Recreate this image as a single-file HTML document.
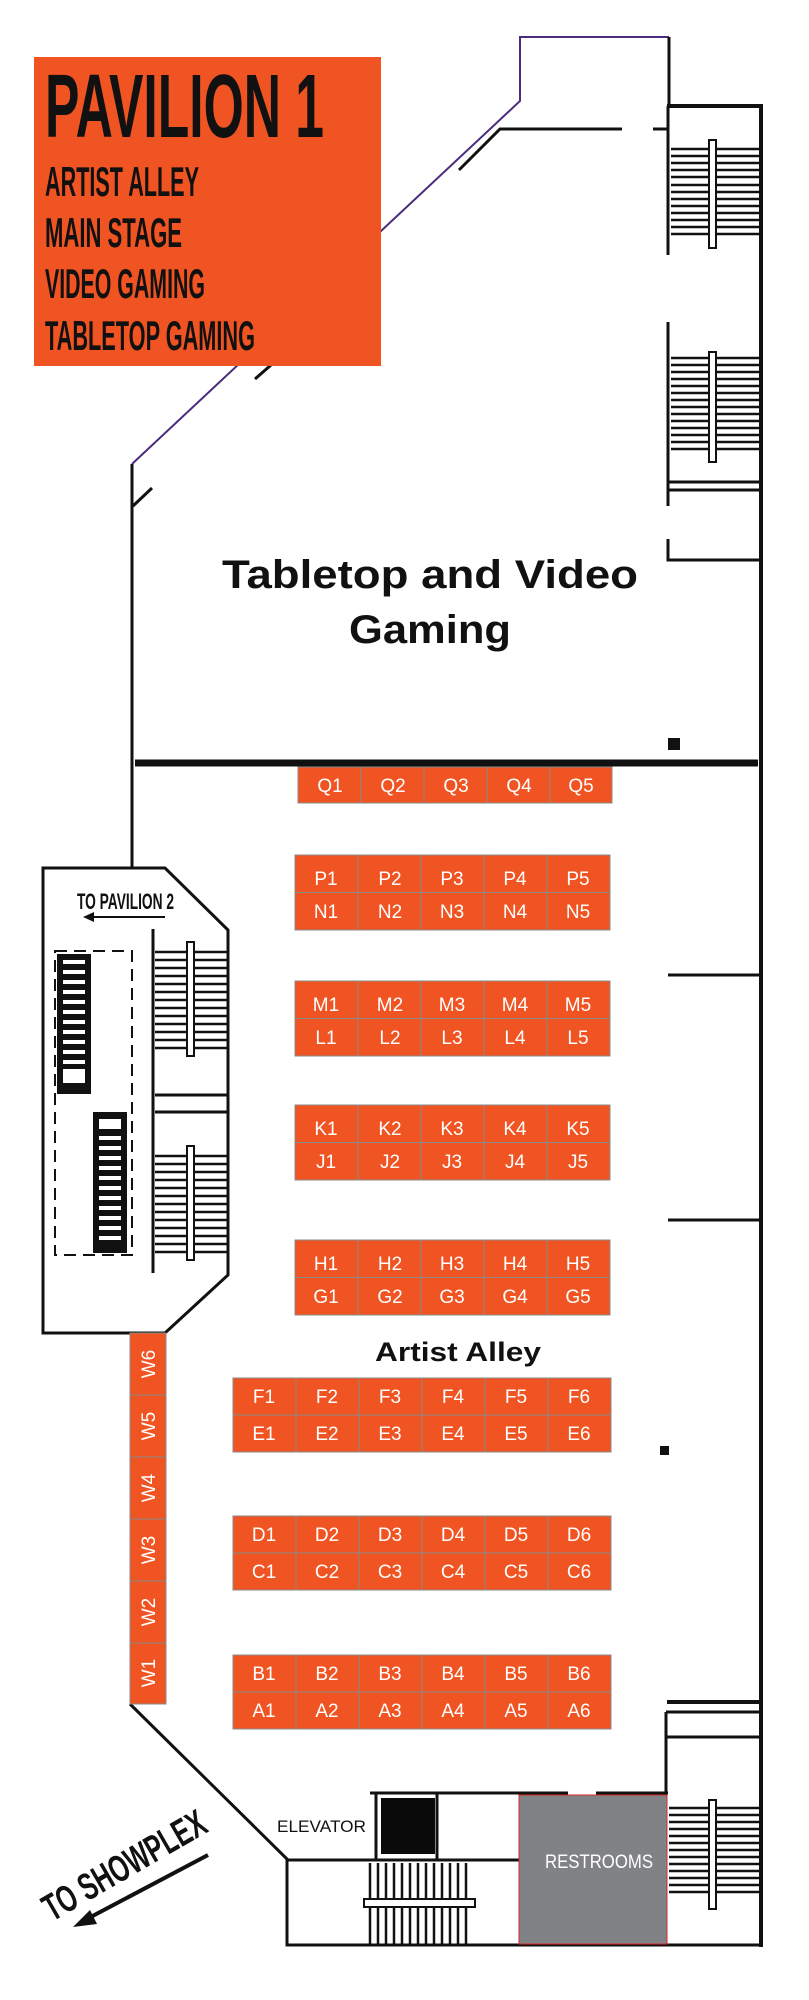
<!DOCTYPE html>
<html><head><meta charset="utf-8"><style>
html,body{margin:0;padding:0;background:#fff;}
svg{display:block;}
.c{font-family:"Liberation Sans",sans-serif;font-size:19px;fill:#fff;text-anchor:middle;}
.n{font-family:"Liberation Sans Narrow","Liberation Sans",sans-serif;font-weight:bold;fill:#111;}
</style></head><body>
<svg width="809" height="2000" viewBox="0 0 809 2000" xmlns="http://www.w3.org/2000/svg">
<!-- purple outline -->
<polyline points="669,37 520,37 520,101 132,464" fill="none" stroke="#4b2d7f" stroke-width="2"/>
<g stroke="#111" fill="none" stroke-width="3">
<line x1="669" y1="37" x2="669" y2="108"/>
<line x1="132" y1="464" x2="132" y2="869"/>
<line x1="667" y1="106" x2="763" y2="106" stroke-width="4"/>
<line x1="761" y1="104" x2="761" y2="1947" stroke-width="4"/>
<polyline points="459,170 500,129 622,129"/>
<line x1="653" y1="129" x2="669" y2="129"/>
<line x1="255" y1="379" x2="271" y2="365"/>
<line x1="133" y1="506" x2="152" y2="488"/>
<line x1="668" y1="106" x2="668" y2="255"/>
<line x1="668" y1="322" x2="668" y2="506"/>
<polyline points="668,539 668,560 761,560"/>
<line x1="668" y1="482" x2="761" y2="482"/>
<line x1="668" y1="490" x2="761" y2="490"/>
<line x1="135" y1="763" x2="758" y2="763" stroke-width="7"/>
<line x1="668" y1="975" x2="761" y2="975"/>
<line x1="668" y1="1220" x2="761" y2="1220"/>
<!-- pavilion 2 box -->
<polyline points="132,868 43,868 43,1333 165,1333 228,1275 228,930 165,868 132,868"/>
<line x1="153" y1="929" x2="153" y2="1273"/>
<line x1="155" y1="1095" x2="228" y2="1095"/>
<line x1="155" y1="1112" x2="228" y2="1112"/>
<rect x="55" y="951" width="77" height="304" stroke-width="2" stroke-dasharray="12,7"/>
<!-- bottom -->
<polyline points="130,1704 287,1859 287,1945 761,1945"/>
<line x1="287" y1="1860" x2="519" y2="1860"/>
<line x1="370" y1="1793" x2="568" y2="1793"/>
<line x1="596" y1="1793" x2="668" y2="1793"/>
<line x1="437" y1="1793" x2="437" y2="1860"/>
<line x1="376" y1="1793" x2="376" y2="1860"/>
<line x1="667" y1="1702" x2="761" y2="1702" stroke-width="4"/>
<line x1="666" y1="1712" x2="666" y2="1945"/>
<line x1="666" y1="1712" x2="761" y2="1712"/>
<line x1="666" y1="1737" x2="761" y2="1737"/>
</g>
<rect x="668" y="738" width="12" height="12" fill="#111"/>
<rect x="660" y="1446" width="9" height="9" fill="#111"/>
<rect x="381" y="1798" width="54" height="56" fill="#0a0a0a"/>
<!-- stairs -->
<g stroke="#111" stroke-width="2.5">
<line x1="671" y1="149" x2="760" y2="149"/><line x1="671" y1="156" x2="760" y2="156"/><line x1="671" y1="163" x2="760" y2="163"/><line x1="671" y1="170" x2="760" y2="170"/><line x1="671" y1="177" x2="760" y2="177"/><line x1="671" y1="185" x2="760" y2="185"/><line x1="671" y1="192" x2="760" y2="192"/><line x1="671" y1="199" x2="760" y2="199"/><line x1="671" y1="206" x2="760" y2="206"/><line x1="671" y1="213" x2="760" y2="213"/><line x1="671" y1="220" x2="760" y2="220"/><line x1="671" y1="227" x2="760" y2="227"/><line x1="671" y1="234" x2="760" y2="234"/>
<line x1="671" y1="358" x2="760" y2="358"/><line x1="671" y1="365" x2="760" y2="365"/><line x1="671" y1="372" x2="760" y2="372"/><line x1="671" y1="379" x2="760" y2="379"/><line x1="671" y1="386" x2="760" y2="386"/><line x1="671" y1="393" x2="760" y2="393"/><line x1="671" y1="400" x2="760" y2="400"/><line x1="671" y1="407" x2="760" y2="407"/><line x1="671" y1="414" x2="760" y2="414"/><line x1="671" y1="421" x2="760" y2="421"/><line x1="671" y1="428" x2="760" y2="428"/><line x1="671" y1="435" x2="760" y2="435"/><line x1="671" y1="442" x2="760" y2="442"/><line x1="671" y1="449" x2="760" y2="449"/>
<line x1="669" y1="1808" x2="760" y2="1808"/><line x1="669" y1="1815" x2="760" y2="1815"/><line x1="669" y1="1822" x2="760" y2="1822"/><line x1="669" y1="1829" x2="760" y2="1829"/><line x1="669" y1="1836" x2="760" y2="1836"/><line x1="669" y1="1843" x2="760" y2="1843"/><line x1="669" y1="1850" x2="760" y2="1850"/><line x1="669" y1="1857" x2="760" y2="1857"/><line x1="669" y1="1864" x2="760" y2="1864"/><line x1="669" y1="1871" x2="760" y2="1871"/><line x1="669" y1="1878" x2="760" y2="1878"/><line x1="669" y1="1885" x2="760" y2="1885"/><line x1="669" y1="1892" x2="760" y2="1892"/>
<line x1="155" y1="952" x2="228" y2="952"/><line x1="155" y1="960" x2="228" y2="960"/><line x1="155" y1="968" x2="228" y2="968"/><line x1="155" y1="976" x2="228" y2="976"/><line x1="155" y1="984" x2="228" y2="984"/><line x1="155" y1="992" x2="228" y2="992"/><line x1="155" y1="1000" x2="228" y2="1000"/><line x1="155" y1="1008" x2="228" y2="1008"/><line x1="155" y1="1016" x2="228" y2="1016"/><line x1="155" y1="1024" x2="228" y2="1024"/><line x1="155" y1="1032" x2="228" y2="1032"/><line x1="155" y1="1040" x2="228" y2="1040"/><line x1="155" y1="1048" x2="228" y2="1048"/>
<line x1="155" y1="1156" x2="228" y2="1156"/><line x1="155" y1="1164" x2="228" y2="1164"/><line x1="155" y1="1172" x2="228" y2="1172"/><line x1="155" y1="1180" x2="228" y2="1180"/><line x1="155" y1="1188" x2="228" y2="1188"/><line x1="155" y1="1196" x2="228" y2="1196"/><line x1="155" y1="1204" x2="228" y2="1204"/><line x1="155" y1="1212" x2="228" y2="1212"/><line x1="155" y1="1220" x2="228" y2="1220"/><line x1="155" y1="1228" x2="228" y2="1228"/><line x1="155" y1="1236" x2="228" y2="1236"/><line x1="155" y1="1244" x2="228" y2="1244"/><line x1="155" y1="1252" x2="228" y2="1252"/>
<line x1="370" y1="1863" x2="370" y2="1944"/><line x1="378" y1="1863" x2="378" y2="1944"/><line x1="386" y1="1863" x2="386" y2="1944"/><line x1="394" y1="1863" x2="394" y2="1944"/><line x1="402" y1="1863" x2="402" y2="1944"/><line x1="410" y1="1863" x2="410" y2="1944"/><line x1="418" y1="1863" x2="418" y2="1944"/><line x1="426" y1="1863" x2="426" y2="1944"/><line x1="434" y1="1863" x2="434" y2="1944"/><line x1="442" y1="1863" x2="442" y2="1944"/><line x1="450" y1="1863" x2="450" y2="1944"/><line x1="458" y1="1863" x2="458" y2="1944"/><line x1="466" y1="1863" x2="466" y2="1944"/>
</g>
<g fill="#111"><rect x="57" y="954" width="34" height="140"/><rect x="93" y="1112" width="34" height="141"/></g>
<g stroke="#fff" stroke-width="4">
<line x1="63" y1="962" x2="85" y2="962"/><line x1="63" y1="972" x2="85" y2="972"/><line x1="63" y1="982" x2="85" y2="982"/><line x1="63" y1="992" x2="85" y2="992"/><line x1="63" y1="1002" x2="85" y2="1002"/><line x1="63" y1="1012" x2="85" y2="1012"/><line x1="63" y1="1022" x2="85" y2="1022"/><line x1="63" y1="1032" x2="85" y2="1032"/><line x1="63" y1="1042" x2="85" y2="1042"/><line x1="63" y1="1052" x2="85" y2="1052"/><line x1="63" y1="1062" x2="85" y2="1062"/><line x1="63" y1="1076" x2="85" y2="1076" stroke-width="14"/>
<line x1="99" y1="1124" x2="121" y2="1124" stroke-width="10"/><line x1="99" y1="1138" x2="121" y2="1138"/><line x1="99" y1="1148" x2="121" y2="1148"/><line x1="99" y1="1158" x2="121" y2="1158"/><line x1="99" y1="1168" x2="121" y2="1168"/><line x1="99" y1="1178" x2="121" y2="1178"/><line x1="99" y1="1188" x2="121" y2="1188"/><line x1="99" y1="1198" x2="121" y2="1198"/><line x1="99" y1="1208" x2="121" y2="1208"/><line x1="99" y1="1218" x2="121" y2="1218"/><line x1="99" y1="1228" x2="121" y2="1228"/><line x1="99" y1="1238" x2="121" y2="1238"/>
</g>
<g fill="#fff" stroke="#111" stroke-width="2">
<rect x="709" y="140" width="7" height="108"/><rect x="709" y="352" width="7" height="110"/>
<rect x="709" y="1800" width="7" height="109"/>
<rect x="187" y="942" width="7" height="114"/><rect x="187" y="1146" width="7" height="114"/>
<rect x="364" y="1899" width="111" height="8"/>
</g>
<!-- restrooms -->
<rect x="519" y="1795" width="148" height="149" fill="#808285" stroke="#d9262b" stroke-width="1"/>
<text x="599" y="1868" font-family="Liberation Sans Narrow, Liberation Sans, sans-serif" font-size="19" fill="#fff" text-anchor="middle" textLength="108" lengthAdjust="spacingAndGlyphs">RESTROOMS</text>
<text x="277" y="1832" font-family="Liberation Sans, sans-serif" font-size="17" fill="#111" textLength="89" lengthAdjust="spacingAndGlyphs">ELEVATOR</text>
<!-- title box -->
<rect x="34" y="57" width="347" height="309" fill="#f05423"/>
<text class="n" x="45" y="137" font-size="90" textLength="279" lengthAdjust="spacingAndGlyphs">PAVILION 1</text>
<text class="n" x="45" y="196" font-size="42" textLength="154" lengthAdjust="spacingAndGlyphs">ARTIST ALLEY</text>
<text class="n" x="45" y="247" font-size="42" textLength="137" lengthAdjust="spacingAndGlyphs">MAIN STAGE</text>
<text class="n" x="45" y="298" font-size="42" textLength="160" lengthAdjust="spacingAndGlyphs">VIDEO GAMING</text>
<text class="n" x="45" y="350" font-size="42" textLength="210" lengthAdjust="spacingAndGlyphs">TABLETOP GAMING</text>
<text x="222" y="588" font-family="Liberation Sans, sans-serif" font-weight="bold" font-size="40" fill="#111" textLength="416" lengthAdjust="spacingAndGlyphs">Tabletop and Video</text>
<text x="349" y="643" font-family="Liberation Sans, sans-serif" font-weight="bold" font-size="40" fill="#111" textLength="162" lengthAdjust="spacingAndGlyphs">Gaming</text>
<text x="458" y="1361" font-family="Liberation Sans, sans-serif" font-weight="bold" font-size="27" fill="#111" text-anchor="middle" textLength="166" lengthAdjust="spacingAndGlyphs">Artist Alley</text>
<text class="n" x="77" y="909" font-size="22" textLength="97" lengthAdjust="spacingAndGlyphs">TO PAVILION 2</text>
<line x1="90" y1="917" x2="165" y2="917" stroke="#111" stroke-width="2"/>
<polygon points="83,917 94,912 94,922" fill="#111"/>
<text class="n" font-size="38" transform="translate(52,1922) rotate(-30)" textLength="182" lengthAdjust="spacingAndGlyphs">TO SHOWPLEX</text>
<line x1="208" y1="1855" x2="85" y2="1920" stroke="#111" stroke-width="4"/>
<polygon points="73,1927 90,1910 97,1924" fill="#111"/>
<!-- booths -->
<g fill="#f05423" stroke="#8a8a8a" stroke-width="1">
<rect x="298" y="767" width="63" height="36"/><rect x="361" y="767" width="63" height="36"/><rect x="424" y="767" width="63" height="36"/><rect x="487" y="767" width="63" height="36"/><rect x="550" y="767" width="62" height="36"/>
</g>
<g id="blocks" fill="#f05423" stroke="#8a8a8a" stroke-width="1"></g>
<g class="c">
<text x="330" y="792">Q1</text><text x="393" y="792">Q2</text><text x="456" y="792">Q3</text><text x="519" y="792">Q4</text><text x="581" y="792">Q5</text>
</g>
<g fill="#f05423" stroke="#8a8a8a" stroke-width="1">
<rect x="295" y="855" width="63" height="37.5"/><rect x="358" y="855" width="63" height="37.5"/><rect x="421" y="855" width="63" height="37.5"/><rect x="484" y="855" width="63" height="37.5"/><rect x="547" y="855" width="63" height="37.5"/>
<rect x="295" y="892.5" width="63" height="37.5"/><rect x="358" y="892.5" width="63" height="37.5"/><rect x="421" y="892.5" width="63" height="37.5"/><rect x="484" y="892.5" width="63" height="37.5"/><rect x="547" y="892.5" width="63" height="37.5"/>
<rect x="295" y="981" width="63" height="37.5"/><rect x="358" y="981" width="63" height="37.5"/><rect x="421" y="981" width="63" height="37.5"/><rect x="484" y="981" width="63" height="37.5"/><rect x="547" y="981" width="63" height="37.5"/>
<rect x="295" y="1018.5" width="63" height="37.5"/><rect x="358" y="1018.5" width="63" height="37.5"/><rect x="421" y="1018.5" width="63" height="37.5"/><rect x="484" y="1018.5" width="63" height="37.5"/><rect x="547" y="1018.5" width="63" height="37.5"/>
<rect x="295" y="1105" width="63" height="37.5"/><rect x="358" y="1105" width="63" height="37.5"/><rect x="421" y="1105" width="63" height="37.5"/><rect x="484" y="1105" width="63" height="37.5"/><rect x="547" y="1105" width="63" height="37.5"/>
<rect x="295" y="1142.5" width="63" height="37.5"/><rect x="358" y="1142.5" width="63" height="37.5"/><rect x="421" y="1142.5" width="63" height="37.5"/><rect x="484" y="1142.5" width="63" height="37.5"/><rect x="547" y="1142.5" width="63" height="37.5"/>
<rect x="295" y="1240" width="63" height="37.5"/><rect x="358" y="1240" width="63" height="37.5"/><rect x="421" y="1240" width="63" height="37.5"/><rect x="484" y="1240" width="63" height="37.5"/><rect x="547" y="1240" width="63" height="37.5"/>
<rect x="295" y="1277.5" width="63" height="37.5"/><rect x="358" y="1277.5" width="63" height="37.5"/><rect x="421" y="1277.5" width="63" height="37.5"/><rect x="484" y="1277.5" width="63" height="37.5"/><rect x="547" y="1277.5" width="63" height="37.5"/>
</g>
<g class="c">
<text x="326" y="885">P1</text><text x="390" y="885">P2</text><text x="452" y="885">P3</text><text x="515" y="885">P4</text><text x="578" y="885">P5</text>
<text x="326" y="918">N1</text><text x="390" y="918">N2</text><text x="452" y="918">N3</text><text x="515" y="918">N4</text><text x="578" y="918">N5</text>
<text x="326" y="1011">M1</text><text x="390" y="1011">M2</text><text x="452" y="1011">M3</text><text x="515" y="1011">M4</text><text x="578" y="1011">M5</text>
<text x="326" y="1044">L1</text><text x="390" y="1044">L2</text><text x="452" y="1044">L3</text><text x="515" y="1044">L4</text><text x="578" y="1044">L5</text>
<text x="326" y="1135">K1</text><text x="390" y="1135">K2</text><text x="452" y="1135">K3</text><text x="515" y="1135">K4</text><text x="578" y="1135">K5</text>
<text x="326" y="1168">J1</text><text x="390" y="1168">J2</text><text x="452" y="1168">J3</text><text x="515" y="1168">J4</text><text x="578" y="1168">J5</text>
<text x="326" y="1270">H1</text><text x="390" y="1270">H2</text><text x="452" y="1270">H3</text><text x="515" y="1270">H4</text><text x="578" y="1270">H5</text>
<text x="326" y="1303">G1</text><text x="390" y="1303">G2</text><text x="452" y="1303">G3</text><text x="515" y="1303">G4</text><text x="578" y="1303">G5</text>
</g>
<g fill="#f05423" stroke="#8a8a8a" stroke-width="1">
<rect x="233" y="1378" width="63" height="37"/><rect x="296" y="1378" width="63" height="37"/><rect x="359" y="1378" width="63" height="37"/><rect x="422" y="1378" width="63" height="37"/><rect x="485" y="1378" width="63" height="37"/><rect x="548" y="1378" width="63" height="37"/>
<rect x="233" y="1415" width="63" height="37"/><rect x="296" y="1415" width="63" height="37"/><rect x="359" y="1415" width="63" height="37"/><rect x="422" y="1415" width="63" height="37"/><rect x="485" y="1415" width="63" height="37"/><rect x="548" y="1415" width="63" height="37"/>
<rect x="233" y="1516" width="63" height="37"/><rect x="296" y="1516" width="63" height="37"/><rect x="359" y="1516" width="63" height="37"/><rect x="422" y="1516" width="63" height="37"/><rect x="485" y="1516" width="63" height="37"/><rect x="548" y="1516" width="63" height="37"/>
<rect x="233" y="1553" width="63" height="37"/><rect x="296" y="1553" width="63" height="37"/><rect x="359" y="1553" width="63" height="37"/><rect x="422" y="1553" width="63" height="37"/><rect x="485" y="1553" width="63" height="37"/><rect x="548" y="1553" width="63" height="37"/>
<rect x="233" y="1655" width="63" height="37"/><rect x="296" y="1655" width="63" height="37"/><rect x="359" y="1655" width="63" height="37"/><rect x="422" y="1655" width="63" height="37"/><rect x="485" y="1655" width="63" height="37"/><rect x="548" y="1655" width="63" height="37"/>
<rect x="233" y="1692" width="63" height="37"/><rect x="296" y="1692" width="63" height="37"/><rect x="359" y="1692" width="63" height="37"/><rect x="422" y="1692" width="63" height="37"/><rect x="485" y="1692" width="63" height="37"/><rect x="548" y="1692" width="63" height="37"/>
<rect x="130" y="1333" width="36" height="62"/><rect x="130" y="1395" width="36" height="62"/><rect x="130" y="1457" width="36" height="62"/><rect x="130" y="1519" width="36" height="62"/><rect x="130" y="1581" width="36" height="62"/><rect x="130" y="1643" width="36" height="61"/>
</g>
<g class="c">
<text x="264" y="1403">F1</text><text x="327" y="1403">F2</text><text x="390" y="1403">F3</text><text x="453" y="1403">F4</text><text x="516" y="1403">F5</text><text x="579" y="1403">F6</text>
<text x="264" y="1440">E1</text><text x="327" y="1440">E2</text><text x="390" y="1440">E3</text><text x="453" y="1440">E4</text><text x="516" y="1440">E5</text><text x="579" y="1440">E6</text>
<text x="264" y="1541">D1</text><text x="327" y="1541">D2</text><text x="390" y="1541">D3</text><text x="453" y="1541">D4</text><text x="516" y="1541">D5</text><text x="579" y="1541">D6</text>
<text x="264" y="1578">C1</text><text x="327" y="1578">C2</text><text x="390" y="1578">C3</text><text x="453" y="1578">C4</text><text x="516" y="1578">C5</text><text x="579" y="1578">C6</text>
<text x="264" y="1680">B1</text><text x="327" y="1680">B2</text><text x="390" y="1680">B3</text><text x="453" y="1680">B4</text><text x="516" y="1680">B5</text><text x="579" y="1680">B6</text>
<text x="264" y="1717">A1</text><text x="327" y="1717">A2</text><text x="390" y="1717">A3</text><text x="453" y="1717">A4</text><text x="516" y="1717">A5</text><text x="579" y="1717">A6</text>
<text transform="translate(155,1364) rotate(-90)">W6</text>
<text transform="translate(155,1426) rotate(-90)">W5</text>
<text transform="translate(155,1488) rotate(-90)">W4</text>
<text transform="translate(155,1550) rotate(-90)">W3</text>
<text transform="translate(155,1612) rotate(-90)">W2</text>
<text transform="translate(155,1673) rotate(-90)">W1</text>
</g>
</svg>
</body></html>
